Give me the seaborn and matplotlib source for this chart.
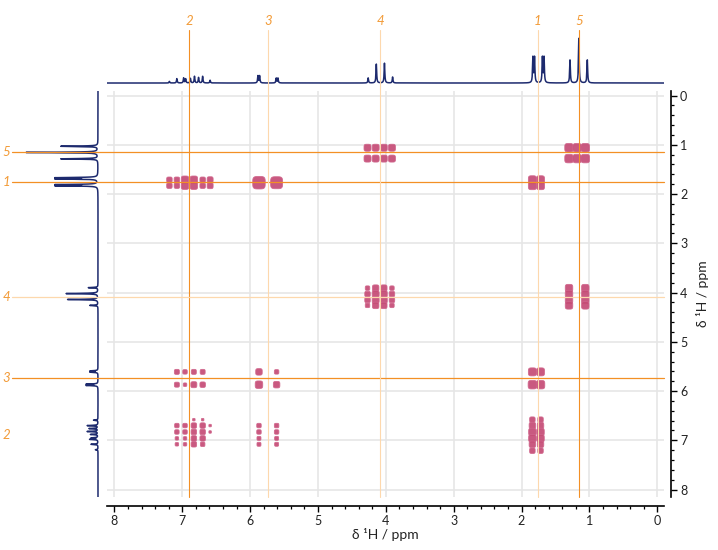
import numpy as np
import pandas as pd
import matplotlib
matplotlib.use("Agg")
import matplotlib.pyplot as plt
import matplotlib.transforms as mtransforms
from matplotlib.lines import Line2D
from matplotlib.path import Path
from matplotlib.ticker import MultipleLocator
import seaborn as sns

# assigned signals (ppm)
spin_labels = ["1", "2", "3", "4", "5"]
spin_shifts = [1.76, 6.90, 5.73, 4.08, 1.155]

# 1D peak list: position (ppm), height (tallest line = 1)
peak_ppm = [1.285, 1.155, 1.03,
            1.832, 1.808, 1.692, 1.668,
            4.26, 4.14, 4.02, 3.90,
            5.885, 5.86, 5.615, 5.59,
            7.19, 7.08, 6.98, 6.95, 6.88, 6.82, 6.76, 6.70, 6.59]
peak_height = [0.50, 0.97, 0.50,
               0.55, 0.55, 0.55, 0.55,
               0.11, 0.41, 0.43, 0.13,
               0.155, 0.155, 0.105, 0.105,
               0.035, 0.095, 0.11, 0.09, 0.10, 0.145, 0.12, 0.145, 0.06]
line_hw = 0.006

# multiplet lines seen in the 2D map
f2_1 = [1.84, 1.72]
f2_2 = [7.19, 7.08, 6.96, 6.83, 6.70, 6.59]
f2_3 = [5.87, 5.61]
f2_4 = [4.27, 4.15, 4.03, 3.91]
f2_5 = [1.30, 1.18, 1.06]
f1_1 = [1.71, 1.83]
f1_1_merged = [1.77]
f1_2 = [6.58, 6.70, 6.83, 6.96, 7.08, 7.21]
f1_3 = [5.61, 5.87]
f1_4 = [3.91, 4.03, 4.15, 4.26]
f1_5 = [1.06, 1.28]

# blob sizes (px) for each cross peak, rows = F1 lines, cols = F2 lines
size_4_5 = [[7, 7, 7, 7], [7, 7, 7, 7]]
size_5_5 = [[8.5, 8.5, 8.5], [8.5, 8.5, 8.5]]
size_1_1 = [[8, 8], [8, 8]]
size_2_1 = [[5.5, 5.5, 7.5, 7.5, 5.5, 6], [5.5, 5.5, 7.5, 7.5, 5.5, 6]]
size_3_1 = [[12.5, 12]]
size_4_4 = [[4.5, 6.5, 6.5, 4.5], [5.5, 7, 7, 5.5], [5.5, 7, 7, 5.5], [4.5, 6.5, 6.5, 4.5]]
size_5_4 = [[7.5, 0, 7.5], [7.5, 0, 7.5], [7.5, 0, 7.5], [7.5, 0, 7.5]]
size_2_3 = [[0, 5, 4.5, 5, 5, 0], [0, 5, 3.5, 6, 5.5, 0]]
size_3_3 = [[6.5, 4.5], [7.5, 6.5]]
size_1_3 = [[8, 8], [8.5, 8.5]]
size_2_2 = [[0, 0, 0, 2.5, 2.5, 0], [0, 4.5, 4.5, 5.5, 5.5, 2.5], [0, 4.5, 4.5, 5.5, 5.5, 2.5],
            [0, 3.5, 3.5, 5.5, 5.5, 0], [0, 3.5, 3.5, 5.5, 4.5, 0], [0, 0, 0, 0, 0, 0]]
size_3_2 = [[0, 0], [4.5, 4.5], [4.5, 4.5], [4, 4], [4, 4], [0, 0]]
size_1_2 = [[5.5, 5.5], [6.5, 6.5], [7.5, 7.5], [7.5, 7.5], [6.5, 6.5], [5.5, 5.5]]

cross_peaks = [
    (f2_4, f1_5, size_4_5), (f2_5, f1_5, size_5_5), (f2_1, f1_1, size_1_1),
    (f2_2, f1_1, size_2_1), (f2_3, f1_1_merged, size_3_1),
    (f2_4, f1_4, size_4_4), (f2_5, f1_4, size_5_4),
    (f2_2, f1_3, size_2_3), (f2_3, f1_3, size_3_3), (f2_1, f1_3, size_1_3),
    (f2_2, f1_2, size_2_2), (f2_3, f1_2, size_3_2), (f2_1, f1_2, size_1_2),
]

rows = []
for cols, lines, sides in cross_peaks:
    for f1, row in zip(lines, sides):
        for f2, side in zip(cols, row):
            if side > 0:
                rows.append((f2, f1, side))
cosy = pd.DataFrame(rows, columns=["f2", "f1", "side"])
cosy["s"] = (cosy["side"] * 0.72) ** 2

xlim = (8.11, -0.10)
ylim = (8.15, -0.10)
ppm = np.linspace(-0.1, 8.15, 24000)
spec = np.zeros_like(ppm)
for p, h in zip(peak_ppm, peak_height):
    spec += h / (1 + ((ppm - p) / line_hw) ** 2)
proj = pd.DataFrame({"ppm": ppm, "intensity": spec})

# rounded square marker for the contour blobs
t = np.linspace(0, 2 * np.pi, 80)
blob = Path(np.column_stack([np.sign(np.cos(t)) * np.abs(np.cos(t)) ** 0.5,
                             np.sign(np.sin(t)) * np.abs(np.sin(t)) ** 0.5]))

sns.set_theme(style="white")
plt.rcParams["font.family"] = ["Lato", "DejaVu Sans"]

W, H = 718, 550
fig = plt.figure(figsize=(W / 100, H / 100), dpi=100)
ax = fig.add_axes([107 / W, 1 - 497 / H, 557 / W, 406.4 / H])
ax_top = fig.add_axes([107 / W, 1 - 90 / H, 557 / W, 62 / H], facecolor="none")
ax_left = fig.add_axes([14 / W, 1 - 497 / H, 86 / W, 406.4 / H], facecolor="none")

navy = "#1d2a6e"
sns.lineplot(data=proj, x="ppm", y="intensity", estimator=None, sort=False,
             color=navy, lw=1.1, ax=ax_top)
ax_top.set_xlim(xlim)
ax_top.set_ylim(-0.152, 1.196)
ax_top.axis("off")

sns.lineplot(data=proj, x="intensity", y="ppm", estimator=None, sort=False,
             orient="y", color=navy, lw=1.1, ax=ax_left)
ax_left.set_xlim(1.135, -0.027)
ax_left.set_ylim(ylim)
ax_left.axis("off")

smin, smax = cosy["s"].min(), cosy["s"].max()
sns.scatterplot(data=cosy, x="f2", y="f1", size="s", sizes=(smin, smax),
                size_norm=(smin, smax), marker=blob, color="#c54b75",
                edgecolor="#d0668c", linewidth=0.6, alpha=0.92,
                legend=False, ax=ax, zorder=3)

ax.set_xlim(xlim)
ax.set_ylim(ylim)
ax.xaxis.set_major_locator(MultipleLocator(1))
ax.xaxis.set_minor_locator(MultipleLocator(0.2))
ax.yaxis.set_major_locator(MultipleLocator(1))
ax.yaxis.set_minor_locator(MultipleLocator(0.2))
ax.grid(True, which="major", color="#e6e6e6", lw=1.2)
ax.set_axisbelow(True)
sns.despine(ax=ax, left=True, top=True, right=False, bottom=False,
            offset={"bottom": 6.5, "right": 5})
ax.yaxis.tick_right()
ax.yaxis.set_label_position("right")
for side in ("bottom", "right"):
    ax.spines[side].set_color("black")
    ax.spines[side].set_linewidth(1.2)
ax.tick_params(which="major", direction="out", length=4.5, width=1,
               color="black", labelsize=9, pad=2, labelcolor="#222222")
ax.tick_params(which="minor", direction="out", length=2.3, width=0.9,
               color="black")
ax.tick_params(axis="x", which="both", bottom=True)
ax.tick_params(axis="y", which="both", right=True, left=False)
ax.set_xlabel("δ ¹H / ppm", fontsize=10, color="#222222", labelpad=1)
ax.set_ylabel("δ ¹H / ppm", fontsize=10, color="#222222", labelpad=6,
              rotation=90)

# assignment lines and labels
orange = "#f39025"
light = "#fdd8ad"
v_strong = {"1": False, "2": True, "3": False, "4": False, "5": True}
h_style = {"1": "strong", "2": None, "3": "strong", "4": "light", "5": "strong"}
vx = mtransforms.blended_transform_factory(ax.transData, fig.transFigure)
hy = mtransforms.blended_transform_factory(fig.transFigure, ax.transData)
for lab, d in zip(spin_labels, spin_shifts):
    c = orange if v_strong[lab] else light
    fig.add_artist(Line2D([d, d], [1 - 30 / H, 1 - 497 / H], transform=vx,
                          color=c, lw=0.8, zorder=5))
    fig.text(d, 1 - 21 / H, lab, transform=vx, ha="center", va="center",
             color="#f29a36", fontsize=9.5, style="italic")
    if h_style[lab] is not None:
        c = orange if h_style[lab] == "strong" else light
        fig.add_artist(Line2D([12 / W, 664 / W], [d, d], transform=hy,
                              color=c, lw=0.9, zorder=5))
    fig.text(6 / W, d, lab, transform=hy, ha="center", va="center",
             color="#f29a36", fontsize=9.5, style="italic")

fig.savefig("out.png", dpi=100)
